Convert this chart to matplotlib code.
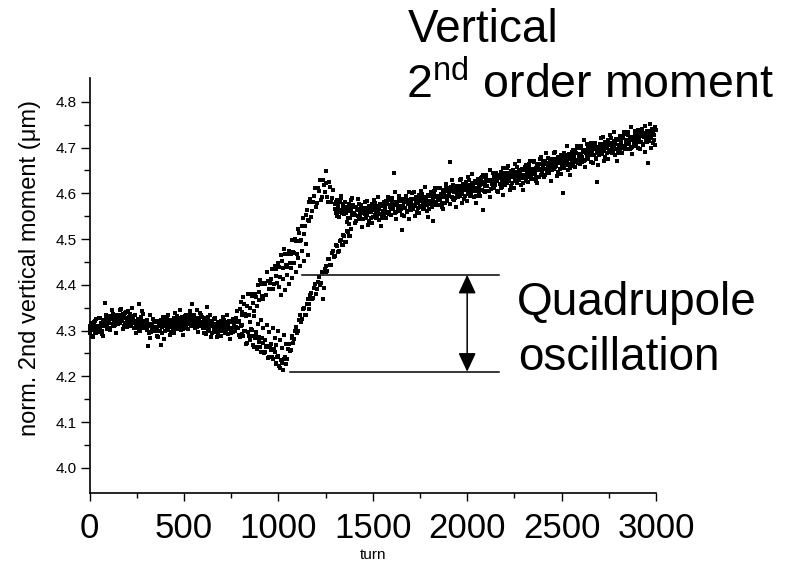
import numpy as np
import matplotlib
matplotlib.use("Agg")
import matplotlib.pyplot as plt

# ---------------- data (values in units of 0.001 um above 4.000 um) ----------------
base_start, base_step = 0, 5
base_vals = [
    310, 295, 317, 302, 287, 314, 321, 300, 308, 296,
    306, 327, 311, 293, 319, 324, 360, 314, 335, 309,
    331, 317, 306, 328, 346, 310, 323, 313, 334, 320,
    314, 329, 344, 320, 334, 304, 337, 330, 317, 341,
    324, 343, 315, 309, 327, 332, 320, 306, 335, 295,
    321, 306, 358, 313, 298, 325, 342, 311, 319, 307,
    318, 304, 266, 315, 333, 297, 310, 300, 321, 307,
    300, 321, 305, 287, 313, 318, 268, 308, 329, 282,
    300, 315, 330, 306, 320, 290, 323, 316, 303, 327,
    319, 338, 310, 304, 322, 327, 315, 301, 330, 290,
    327, 312, 334, 319, 304, 331, 338, 317, 325, 358,
    330, 316, 305, 327, 345, 309, 322, 312, 333, 319,
    306, 327, 311, 293, 352, 324, 300, 314, 335, 309,
    295, 310, 325, 301, 315, 285, 318, 311, 298, 322,
    310, 329, 301, 295, 313, 318, 306, 292, 321, 281,
    318, 303, 325, 316, 299, 328,
]

base2_start, base2_step = 2, 5
base2_vals = [
    301, 314, 289, 307, 318, 297, 325, 294, 311, 304,
    328, 307, 316, 300, 289, 320, 311, 331, 304, 323,
    319, 302, 332, 325, 314, 337, 309, 329, 295, 326,
    334, 323, 316, 347, 321, 328, 311, 338, 327, 308,
    312, 329, 337, 322, 314, 349, 326, 317, 333, 309,
    312, 325, 300, 318, 329, 308, 336, 305, 322, 315,
    323, 302, 311, 295, 284, 315, 306, 326, 299, 318,
    305, 288, 318, 311, 300, 323, 295, 315, 281, 312,
    320, 309, 302, 333, 307, 314, 297, 324, 313, 294,
    307, 324, 332, 317, 309, 344, 321, 312, 328, 304,
    318, 331, 306, 324, 335, 314, 342, 311, 328, 321,
    335, 314, 323, 307, 296, 327, 318, 338, 311, 330,
    311, 294, 324, 317, 306, 329, 301, 321, 287, 318,
    315, 304, 297, 328, 302, 309, 292, 319, 308, 289,
    298, 315, 323, 308, 300, 335, 312, 303, 319, 295,
    305, 322, 297, 315, 326, 308,
]

upper_start, upper_step = 780, 10
upper_vals = [
    343, 322, 362, 340, 357, 331, 381, 350, 376, 342,
    374, 399, 366, 401, 368, 401, 429, 390, 413, 390,
    441, 420, 448, 416, 453, 478, 443, 467, 448, 497,
    471, 501, 467, 513, 498, 545, 529, 563, 540, 587,
    561, 594, 570, 611, 628, 593, 618, 648, 592, 624,
    581, 607,
]

upper2_start, upper2_step = 785, 10
upper2_vals = [
    319, 348, 335, 374, 336, 354, 333, 379, 360, 380,
    354, 384, 411, 376, 405, 377, 408, 405, 434, 402,
    435, 403, 438, 465, 437, 468, 440, 473, 468, 497,
    469, 495, 523, 496, 528, 512, 553, 542, 580, 549,
    580, 611, 579, 605, 585, 629, 603, 623, 582, 613,
    589,
]

lower_start, lower_step = 785, 10
lower_vals = [
    306, 286, 312, 289, 300, 272, 288, 303, 269, 284,
    260, 283, 265, 283, 252, 263, 241, 264, 243, 259,
    230, 243, 223, 235, 213, 242, 237, 271, 258, 289,
    282, 308, 298, 333, 326, 350, 335, 368, 358, 383,
    371, 402, 391, 417, 404, 370, 434, 428, 456, 443,
    470, 461, 488, 471, 495, 486, 508, 493, 517, 506,
    523,
]

lower2_start, lower2_step = 790, 10
lower2_vals = [
    290, 309, 292, 298, 270, 297, 279, 289, 265, 291,
    264, 276, 253, 273, 253, 266, 243, 258, 238, 253,
    226, 245, 218, 229, 238, 228, 259, 255, 284, 273,
    300, 294, 324, 318, 347, 335, 359, 348, 378, 368,
    393, 381, 407, 399, 428, 394, 441, 430, 456, 444,
    473, 462, 484, 474, 499, 488, 506, 494, 515, 507,
]

mid_start, mid_step = 850, 10
mid_vals = [
    318, 302, 331, 296, 315, 287, 324, 305, 280, 312,
    296, 271, 306, 284, 268, 299, 279, 262, 291, 270,
]

mid2_start, mid2_step = 1005, 10
mid2_vals = [
    395, 378, 412, 389, 421, 402, 436, 415, 448, 427,
    459, 441, 474, 452, 489, 466,
]

trend_start, trend_step = 1300, 5
trend_vals = [
    576, 558, 585, 566, 548, 580, 589, 563, 573, 556,
    554, 580, 561, 538, 571, 576, 547, 564, 590, 558,
    570, 553, 540, 566, 588, 545, 560, 548, 574, 557,
    543, 562, 580, 551, 568, 531, 572, 563, 547, 576,
    563, 586, 553, 545, 567, 573, 559, 541, 576, 529,
    573, 555, 582, 563, 545, 577, 586, 560, 570, 553,
    584, 567, 645, 580, 602, 559, 574, 562, 588, 571,
    566, 520, 573, 550, 583, 588, 559, 576, 602, 570,
    563, 582, 600, 571, 588, 551, 592, 583, 567, 596,
    583, 606, 573, 565, 587, 593, 579, 561, 596, 549,
    594, 576, 603, 584, 540, 598, 607, 581, 591, 574,
    585, 611, 592, 569, 602, 607, 578, 595, 621, 589,
    612, 595, 668, 608, 630, 587, 602, 590, 616, 599,
    591, 610, 628, 599, 616, 579, 620, 611, 595, 624,
    613, 636, 603, 595, 617, 623, 609, 591, 626, 579,
    623, 605, 632, 613, 595, 627, 636, 564, 620, 603,
    634, 617, 604, 630, 652, 609, 624, 612, 638, 621,
    619, 645, 626, 603, 636, 641, 612, 629, 655, 623,
    619, 638, 656, 627, 644, 607, 648, 639, 623, 652,
    641, 664, 631, 623, 645, 651, 637, 619, 654, 607,
    652, 634, 661, 642, 624, 656, 665, 639, 649, 632,
    643, 669, 650, 627, 660, 665, 636, 653, 679, 647,
    670, 653, 640, 666, 688, 645, 660, 648, 674, 657,
    650, 669, 687, 658, 675, 638, 679, 670, 654, 683,
    673, 600, 663, 655, 677, 683, 669, 651, 686, 639,
    685, 667, 694, 675, 657, 689, 698, 672, 682, 665,
    698, 681, 668, 694, 716, 673, 688, 676, 702, 685,
    683, 709, 690, 667, 700, 705, 676, 693, 625, 687,
    683, 702, 720, 691, 708, 671, 712, 703, 687, 716,
    705, 728, 695, 687, 709, 715, 701, 683, 718, 671,
    716, 698, 725, 706, 688, 720, 729, 703, 713, 696,
    727, 710, 697, 723, 745, 702, 717, 705, 731, 714,
    712, 738, 719, 696, 729, 734, 705, 722, 748, 716,
    712, 731, 667, 720, 737, 700, 741, 732, 716, 745,
    738,
]

trend2_start, trend2_step = 1302, 5
trend2_vals = [
    565, 581, 551, 572, 586, 560, 594, 557, 577, 569,
    581, 556, 567, 547, 534, 571, 561, 585, 552, 575,
    556, 535, 571, 563, 550, 577, 544, 568, 527, 564,
    568, 554, 546, 583, 552, 560, 540, 572, 559, 536,
    549, 569, 579, 561, 551, 593, 566, 555, 574, 545,
    562, 578, 548, 569, 583, 557, 591, 554, 574, 566,
    590, 565, 576, 556, 543, 580, 570, 594, 561, 584,
    573, 552, 588, 580, 567, 594, 561, 585, 544, 581,
    588, 574, 566, 603, 572, 580, 560, 592, 579, 556,
    569, 589, 599, 581, 571, 613, 586, 575, 594, 565,
    583, 599, 569, 590, 604, 578, 612, 575, 595, 587,
    612, 587, 598, 578, 565, 602, 592, 616, 583, 606,
    598, 577, 613, 605, 592, 619, 586, 610, 569, 606,
    616, 602, 594, 631, 600, 608, 588, 620, 607, 584,
    599, 619, 629, 611, 601, 643, 616, 605, 624, 595,
    612, 628, 598, 619, 633, 607, 641, 604, 624, 616,
    640, 615, 626, 606, 593, 630, 620, 644, 611, 634,
    626, 605, 641, 633, 620, 647, 614, 638, 597, 634,
    644, 630, 622, 659, 628, 636, 616, 648, 635, 612,
    627, 647, 657, 639, 629, 671, 644, 633, 652, 623,
    641, 657, 627, 648, 662, 636, 670, 633, 653, 645,
    670, 645, 656, 636, 623, 660, 650, 674, 641, 664,
    656, 635, 671, 663, 650, 677, 644, 668, 627, 664,
    675, 661, 653, 690, 659, 667, 647, 679, 666, 643,
    659, 679, 689, 671, 661, 703, 676, 665, 684, 655,
    674, 690, 660, 681, 695, 669, 703, 666, 686, 678,
    704, 679, 690, 670, 657, 694, 684, 708, 675, 698,
    690, 669, 705, 697, 684, 711, 678, 702, 661, 698,
    708, 694, 686, 723, 692, 700, 680, 712, 699, 676,
    691, 711, 721, 703, 693, 735, 708, 697, 716, 687,
    705, 721, 691, 712, 726, 700, 734, 697, 717, 709,
    733, 708, 719, 699, 686, 723, 713, 737, 704, 727,
    719, 698, 734, 726, 713, 740, 707, 731, 690, 727,
    737, 723, 715, 752, 721, 729, 709, 741, 728, 705,
]

x_ticks = [0, 500, 1000, 1500, 2000, 2500, 3000]
y_ticks = [4.0, 4.1, 4.2, 4.3, 4.4, 4.5, 4.6, 4.7, 4.8]
osc_levels = [4.21, 4.422]          # quadrupole oscillation band (um)

# ---------------- style ----------------
plt.rcParams["font.family"] = ["Liberation Sans", "DejaVu Sans"]
plt.rcParams["mathtext.fontset"] = "custom"
plt.rcParams["mathtext.rm"] = "Liberation Sans"
plt.rcParams["mathtext.it"] = "Liberation Sans:italic"
plt.rcParams["mathtext.bf"] = "Liberation Sans:bold"

W, H = 800, 578
fig = plt.figure(figsize=(W / 100, H / 100), dpi=100)
L, R, B, T = 89.5, 656, 493, 78
ax = fig.add_axes([L / W, 1 - B / H, (R - L) / W, (B - T) / H])

segments = [
    (base_start, base_step, base_vals),
    (base2_start, base2_step, base2_vals),
    (upper_start, upper_step, upper_vals),
    (upper2_start, upper2_step, upper2_vals),
    (lower_start, lower_step, lower_vals),
    (lower2_start, lower2_step, lower2_vals),
    (mid_start, mid_step, mid_vals),
    (mid2_start, mid2_step, mid2_vals),
    (trend_start, trend_step, trend_vals),
    (trend2_start, trend2_step, trend2_vals),
]
for start, step, vals in segments:
    turns = start + step * np.arange(len(vals))
    vals_um = 4.0 + np.asarray(vals) / 1000.0
    ax.plot(turns, vals_um, ls="none", marker="s", ms=3.5, mew=0,
            color="black", clip_on=False)

ax.set_xlim(0, 3000)
ax.set_ylim(3.945, 4.852)
ax.set_xticks(x_ticks)
ax.set_xticks(np.arange(250, 3000, 500), minor=True)
ax.set_yticks(y_ticks)
ax.set_yticks(np.arange(4.05, 4.80, 0.1), minor=True)
ax.set_yticklabels([f"{v:.1f}" for v in y_ticks])
ax.set_xticklabels([str(v) for v in x_ticks])

for s in ["top", "right"]:
    ax.spines[s].set_visible(False)
for s in ["left", "bottom"]:
    ax.spines[s].set_linewidth(1.2)

ax.tick_params(axis="y", which="major", direction="out", length=6.5, width=1.0,
               labelsize=11, pad=3)
ax.tick_params(axis="y", which="minor", direction="out", length=4.5, width=1.0)
ax.tick_params(axis="x", which="major", direction="out", length=6, width=1.0,
               labelsize=25, pad=8)
ax.tick_params(axis="x", which="minor", direction="out", length=3.5, width=1.0)

fig.text(30 / W, 1 - 268 / H, "norm. 2nd vertical moment (\u03bcm)", rotation=90,
         ha="center", va="center", fontsize=17)
fig.text(373 / W, 1 - 555 / H, "turn", ha="center", va="center", fontsize=11)

# annotations
fig.text(408 / W, 1 - 42 / H, "Vertical", fontsize=33, ha="left", va="baseline")
fig.text(406 / W, 1 - 98 / H, r"2$^{\mathrm{nd}}$ order moment", fontsize=33.5,
         ha="left", va="baseline")
fig.text(517 / W, 1 - 315 / H, "Quadrupole", fontsize=33, ha="left", va="baseline")
fig.text(518 / W, 1 - 370 / H, "oscillation", fontsize=33, ha="left", va="baseline")

ax.plot([1125, 2169], [osc_levels[1]] * 2, color="black", lw=1.1, clip_on=False)
ax.plot([1062, 2169], [osc_levels[0]] * 2, color="black", lw=1.1, clip_on=False)
ax.annotate("", xy=(2000, osc_levels[1]), xytext=(2000, osc_levels[0]),
            arrowprops=dict(arrowstyle="<|-|>,head_length=0.58,head_width=0.27",
                            lw=1.1, color="black", shrinkA=0, shrinkB=0,
                            mutation_scale=20))

fig.savefig("out.png", dpi=100)
